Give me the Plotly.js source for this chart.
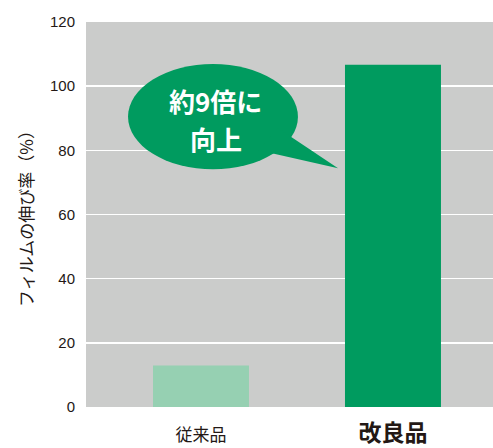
<!DOCTYPE html>
<html><head><meta charset="utf-8">
<script src="https://cdn.plot.ly/plotly-3.0.1.min.js"></script>
<style>html,body{margin:0;padding:0;background:#fff;}#c{width:493px;height:448px;}</style>
</head><body><div id="c"></div>
<script>
const categories = ['従来品', '改良品'];
const values = [12.9, 106.7];
const barColors = ['#96d0b2', '#009b5f'];
const yTicks = [0, 20, 40, 60, 80, 100, 120];
const yTitle = 'フィルムの伸び率（%）';
const calloutLines = ['約9倍に', '向上'];

const xPos = categories.map((c, i) => i);
const tickText = [
  '<span style="font-size:17px">' + categories[0] + '</span>',
  '<span style="font-size:23px;font-weight:bold">' + categories[1] + '</span>'
];

const trace = {
  type: 'bar', x: xPos, y: values, width: 0.5,
  marker: {color: barColors, line: {width: 0}},
  hoverinfo: 'none'
};

const FONT = '"Noto Sans CJK JP", "Liberation Sans", Arial, sans-serif';
const layout = {
  width: 493, height: 448,
  margin: {l: 86, r: 0, t: 22, b: 41, pad: 0},
  paper_bgcolor: '#ffffff', plot_bgcolor: '#cbcccb',
  showlegend: false,
  font: {family: FONT, color: '#231815'},
  xaxis: {
    range: [-0.599, 1.521], tickvals: xPos, ticktext: tickText,
    showgrid: false, zeroline: false, showline: false, ticks: '',
    tickfont: {size: 17, color: '#231815', family: FONT}, ticklabelstandoff: 16
  },
  yaxis: {
    range: [0, 120], tickvals: yTicks, ticktext: yTicks.map(String),
    showgrid: true, gridcolor: '#ffffff', gridwidth: 1.5, zeroline: false, showline: false,
    ticks: '', ticklabelstandoff: 10,
    tickfont: {size: 15, color: '#231815', family: '"Liberation Sans", Arial, sans-serif'},
    title: {text: yTitle, font: {size: 17, color: '#231815', family: FONT}, standoff: 12}
  },
  shapes: [
    {type: 'circle', xref: 'x', yref: 'y', x0: -0.380, x1: 0.505, y0: 74.1, y1: 106.9,
     fillcolor: '#009b5f', line: {width: 0}, layer: 'above'},
    {type: 'path', xref: 'x', yref: 'y',
     path: 'M 0.40 87 L 0.714 74.4 L 0.30 80 Z',
     fillcolor: '#009b5f', line: {width: 0}, layer: 'above'}
  ],
  annotations: calloutLines.map((t, i) => ({
    x: 0.078, y: [95.6, 83.75][i], xref: 'x', yref: 'y', text: '<b>' + t + '</b>',
    showarrow: false, font: {size: 26, color: '#ffffff', family: FONT},
    align: 'center', yanchor: 'middle', borderpad: 0
  }))
};

Plotly.newPlot('c', [trace], layout, {displayModeBar: false, staticPlot: true});
</script>
</body></html>
